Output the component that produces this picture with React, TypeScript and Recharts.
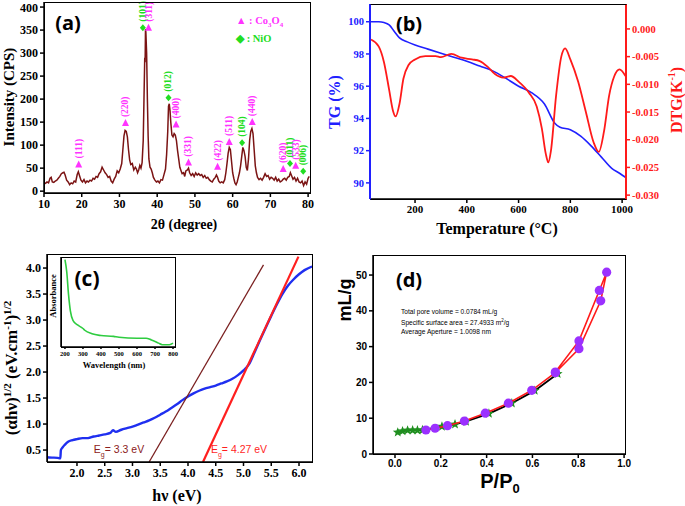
import React from 'react';
import { ComposedChart, Line, Scatter, XAxis, YAxis } from 'recharts';

// ---- (a) XRD pattern ----
const xrdTheta = [
  10.0, 10.4, 10.8, 11.2, 11.6, 11.9, 12.2, 12.6, 13.0, 13.4, 13.8, 14.2, 14.6, 15.0, 15.3, 15.6, 16.0, 16.4, 16.8, 17.2,
  17.6, 18.0, 18.4, 18.8, 19.1, 19.4, 19.8, 20.2, 20.6, 21.0, 21.4, 21.8, 22.2, 22.6, 23.0, 23.4, 23.8, 24.2, 24.6, 25.0,
  25.4, 25.8, 26.2, 26.6, 27.0, 27.4, 27.8, 28.2, 28.6, 29.0, 29.4, 29.8, 30.2, 30.6, 30.9, 31.2, 31.5, 31.8, 32.1, 32.4,
  32.7, 33.0, 33.4, 33.8, 34.2, 34.5, 34.8, 35.1, 35.4, 35.7, 36.0, 36.3, 36.5, 36.7, 36.8, 36.9, 37.0, 37.2, 37.4, 37.6,
  37.8, 38.1, 38.4, 38.7, 39.0, 39.4, 39.8, 40.2, 40.6, 41.0, 41.4, 41.8, 42.2, 42.5, 42.8, 43.0, 43.2, 43.4, 43.6, 43.9,
  44.2, 44.5, 44.8, 45.1, 45.4, 45.7, 46.0, 46.3, 46.6, 47.0, 47.3, 47.6, 48.0, 48.3, 48.6, 49.0, 49.4, 49.8, 50.2, 50.6,
  51.0, 51.4, 51.8, 52.2, 52.6, 53.0, 53.4, 53.8, 54.2, 54.6, 55.0, 55.4, 55.7, 56.0, 56.3, 56.7, 57.1, 57.5, 57.9, 58.2,
  58.5, 58.8, 59.1, 59.4, 59.7, 60.0, 60.3, 60.6, 60.9, 61.2, 61.5, 61.8, 62.1, 62.4, 62.7, 63.0, 63.3, 63.6, 63.9, 64.2,
  64.5, 64.8, 65.1, 65.4, 65.7, 66.0, 66.3, 66.6, 67.0, 67.4, 67.8, 68.2, 68.6, 69.0, 69.4, 69.8, 70.2, 70.6, 71.0, 71.4,
  71.8, 72.2, 72.6, 73.0, 73.4, 73.8, 74.2, 74.6, 75.0, 75.3, 75.6, 76.0, 76.4, 76.8, 77.2, 77.6, 78.0, 78.4, 78.8, 79.2,
  79.6, 80.0, 80.3,
];
const xrdCps = [
  18, 17, 20, 18, 28, 30, 20, 19, 22, 24, 28, 32, 38, 40, 41, 35, 24, 20, 14, 18,
  16, 22, 20, 36, 42, 34, 24, 20, 25, 18, 22, 20, 24, 22, 28, 26, 32, 30, 38, 42,
  52, 46, 40, 36, 30, 32, 22, 18, 26, 32, 44, 40, 48, 60, 90, 120, 132, 130, 118, 90,
  68, 58, 60, 46, 52, 48, 40, 46, 56, 50, 62, 110, 200, 290, 280, 352, 345, 300, 200, 120,
  70, 52, 48, 40, 30, 24, 20, 22, 18, 25, 24, 36, 48, 80, 130, 185, 190, 175, 150, 122,
  118, 125, 122, 110, 88, 70, 52, 45, 38, 40, 32, 44, 46, 50, 40, 34, 38, 32, 40, 35,
  38, 34, 36, 30, 34, 28, 30, 25, 22, 20, 26, 30, 35, 30, 22, 18, 20, 18, 25, 40,
  60, 82, 95, 90, 65, 40, 28, 18, 14, 20, 30, 40, 55, 75, 95, 88, 75, 52, 45, 70,
  110, 130, 136, 125, 90, 55, 40, 30, 25, 28, 24, 30, 38, 32, 34, 26, 30, 28, 24, 30,
  22, 26, 20, 22, 26, 28, 24, 30, 32, 40, 34, 26, 30, 22, 28, 20, 18, 22, 12, 20,
  15, 28, 32,
];
const peakTheta = [19.2, 31.6, 36.2, 37.7, 43.0, 45.0, 48.3, 56.0, 59.1, 62.5, 65.2, 73.4, 75.2, 76.7, 78.7];
const peakCps = [58, 148, 355, 355, 203, 145, 62, 53, 107, 105, 150, 48, 60, 55, 43];
const peakHkl = ['(111)', '(220)', '(101)', '(311)', '(012)', '(400)', '(331)', '(422)', '(511)', '(104)', '(440)', '(620)', '(011)', '(533)', '(006)'];
const peakPhase = ['c', 'c', 'n', 'c', 'n', 'c', 'c', 'c', 'c', 'n', 'c', 'c', 'n', 'c', 'n'];

// ---- (b) TG / DTG ----
const tgT = [30, 60, 80, 100, 120, 140, 170, 200, 250, 300, 350, 400, 450, 500, 550, 600, 650, 700, 740, 760, 800, 840, 880, 920, 960, 990, 1013];
const tgVal = [100, 100, 99.95, 99.8, 99.4, 99.0, 98.75, 98.55, 98.3, 98.05, 97.8, 97.55, 97.25, 96.95, 96.5, 96.0, 95.6, 94.9, 93.7, 93.45, 93.3, 92.9, 92.3, 91.6, 90.9, 90.6, 90.35];
const dtgT = [30, 60, 80, 100, 115, 125, 140, 155, 175, 200, 240, 280, 300, 340, 380, 420, 450, 480, 510, 540, 570, 600, 640, 670, 690, 705, 715, 725, 745, 765, 780, 800, 830, 860, 890, 910, 930, 950, 970, 990, 1013];
const dtgVal = [-0.0019, -0.0032, -0.006, -0.011, -0.0148, -0.0158, -0.0135, -0.009, -0.0065, -0.0055, -0.0049, -0.0049, -0.0051, -0.0045, -0.0052, -0.0055, -0.0058, -0.0068, -0.0082, -0.0088, -0.0085, -0.0095, -0.0115, -0.014, -0.018, -0.0225, -0.0241, -0.022, -0.012, -0.005, -0.0035, -0.0055, -0.0095, -0.015, -0.0205, -0.0222, -0.0185, -0.012, -0.0085, -0.0073, -0.0085];

// ---- (c) Tauc plot ----
const taucE = [1.46, 1.55, 1.65, 1.70, 1.71, 1.74, 1.78, 1.84, 1.92, 2.0, 2.1, 2.2, 2.3, 2.4, 2.5, 2.6, 2.65, 2.7, 2.8, 2.9, 3.0, 3.1, 3.2, 3.3, 3.4, 3.5, 3.6, 3.7, 3.8, 3.9, 4.0, 4.1, 4.2, 4.3, 4.4, 4.5, 4.6, 4.7, 4.8, 4.9, 5.0, 5.1, 5.2, 5.3, 5.4, 5.5, 5.6, 5.7, 5.8, 5.9, 6.0, 6.1, 6.234];
const taucVal = [0.36, 0.355, 0.35, 0.34, 0.5, 0.55, 0.6, 0.66, 0.69, 0.71, 0.73, 0.73, 0.76, 0.78, 0.8, 0.83, 0.88, 0.85, 0.89, 0.92, 0.95, 0.99, 1.03, 1.07, 1.12, 1.18, 1.24, 1.31, 1.38, 1.46, 1.53, 1.59, 1.64, 1.68, 1.71, 1.74, 1.78, 1.82, 1.87, 1.94, 2.03, 2.15, 2.38, 2.62, 2.85, 3.08, 3.3, 3.5, 3.66, 3.78, 3.88, 3.96, 4.03];
const fit1E = [3.3, 5.36];
const fit1Val = [0.27, 4.06];
const fit2E = [4.27, 5.99];
const fit2Val = [0.27, 4.22];
const absWl = [200, 210, 220, 230, 245, 270, 300, 310, 350, 400, 470, 500, 600, 650, 680, 720, 740, 780, 800];
const absVal = [0.99, 0.85, 0.59, 0.41, 0.3, 0.25, 0.21, 0.19, 0.15, 0.13, 0.12, 0.11, 0.1, 0.1, 0.08, 0.044, 0.026, 0.026, 0.044];

// ---- (d) N2 isotherm ----
const adsP = [0.012, 0.033, 0.055, 0.077, 0.098, 0.12, 0.205, 0.262, 0.31, 0.41, 0.51, 0.61, 0.71];
const adsV = [6.05, 6.4, 6.6, 6.65, 6.65, 6.7, 7.7, 8.3, 9.1, 11.3, 14.2, 17.7, 22.4];
const desP = [0.135, 0.175, 0.229, 0.303, 0.394, 0.495, 0.597, 0.7, 0.803, 0.898, 0.924, 0.892, 0.803, 0.7];
const desV = [6.7, 7.2, 7.9, 9.2, 11.4, 14.2, 17.8, 22.7, 29.4, 42.8, 50.8, 45.7, 31.6, 22.9];

const SERIF = '"Liberation Serif", "Times New Roman", serif';
const SANS = '"Liberation Sans", Arial, sans-serif';
const TAG = '"Open Sans", "Liberation Sans", sans-serif';
const MAGENTA = '#ff33ff';
const NIO = '#22dd22';

const xrdData = xrdTheta.map((t, i) => ({ t, cps: xrdCps[i] }));
const peaks = peakTheta.map((t, i) => ({ t, cps: peakCps[i], hkl: peakHkl[i], phase: peakPhase[i] }));
const tgData = tgT.map((T, i) => ({ T, tg: tgVal[i] }));
const dtgData = dtgT.map((T, i) => ({ T, dtg: dtgVal[i] }));
const taucData = taucE.map((e, i) => ({ e, v: taucVal[i] }));
const fit1 = fit1E.map((e, i) => ({ e, v: fit1Val[i] }));
const fit2 = fit2E.map((e, i) => ({ e, v: fit2Val[i] }));
const absData = absWl.map((w, i) => ({ w, a: absVal[i] }));
const adsData = adsP.map((p, i) => ({ p, v: adsV[i] }));
const desData = desP.map((p, i) => ({ p, v: desV[i] }));

function PeakMark(props: any) {
  const { cx, cy, payload } = props;
  const col = payload.phase === 'c' ? MAGENTA : NIO;
  const ty = cy - 6;
  return (
    <g>
      {payload.phase === 'c' ? (
        <polygon points={`${cx},${cy - 4} ${cx - 3.5},${cy + 3} ${cx + 3.5},${cy + 3}`} fill={col} />
      ) : (
        <polygon points={`${cx},${cy - 3.5} ${cx - 3},${cy} ${cx},${cy + 3.5} ${cx + 3},${cy}`} fill={col} />
      )}
      <text
        x={cx}
        y={ty}
        transform={`rotate(-90 ${cx} ${ty})`}
        dominantBaseline="central"
        fill={col}
        fontSize={9.5}
        fontFamily={SERIF}
        fontWeight={700}
      >
        {payload.hkl}
      </text>
    </g>
  );
}

function Dot(props: any) {
  return <circle cx={props.cx} cy={props.cy} r={4.6} fill="#9b30ff" />;
}

function Star(props: any) {
  const { cx, cy } = props;
  const pts: string[] = [];
  for (let k = 0; k < 10; k++) {
    const r = k % 2 === 0 ? 5.2 : 2.2;
    const a = -Math.PI / 2 + (k * Math.PI) / 5;
    pts.push(`${cx + r * Math.cos(a)},${cy + r * Math.sin(a)}`);
  }
  return <polygon points={pts.join(' ')} fill="#1f8f1f" />;
}

function Txt({ x, y, rot = 0, size, color = '#000', family = SERIF, weight = 700, children }: any) {
  return (
    <div
      style={{
        position: 'absolute',
        left: x,
        top: y,
        transform: `translate(-50%, -50%) rotate(${rot}deg)`,
        whiteSpace: 'nowrap',
        fontSize: size,
        fontFamily: family,
        fontWeight: weight,
        color,
        lineHeight: 1,
      }}
    >
      {children}
    </div>
  );
}

function Frame({ l, t, w, h, c = ['#000', '#000', '#000', '#000'], bg }: any) {
  return (
    <div
      style={{
        position: 'absolute',
        left: l,
        top: t,
        width: w,
        height: h,
        boxSizing: 'border-box',
        borderStyle: 'solid',
        borderWidth: 1.5,
        borderColor: `${c[0]} ${c[1]} ${c[2]} ${c[3]}`,
        background: bg,
        pointerEvents: 'none',
      }}
    />
  );
}

const tickSerif = (size: number, fill = '#000') => ({ fill, fontSize: size, fontFamily: SERIF, fontWeight: 700 });
const axis = (stroke = '#000') => ({ stroke, strokeWidth: 1.5 });

export default function App() {
  return (
    <div style={{ position: 'absolute', left: 0, top: 0, width: 685, height: 506, background: '#fff', overflow: 'hidden' }}>
      {/* (a) */}
      <div style={{ position: 'absolute', left: 0, top: 0 }}>
        <ComposedChart width={330} height={240} data={xrdData} margin={{ top: 2, right: 20, left: 0, bottom: 0 }}>
          <XAxis
            type="number"
            dataKey="t"
            domain={[10, 80.5]}
            ticks={[10, 20, 30, 40, 50, 60, 70, 80]}
            height={47}
            axisLine={axis()}
            tickLine={axis()}
            tickSize={4}
            tick={tickSerif(12)}
          />
          <YAxis
            type="number"
            domain={[-4, 411]}
            ticks={[0, 50, 100, 150, 200, 250, 300, 350, 400]}
            width={44}
            axisLine={axis()}
            tickLine={axis()}
            tickSize={4}
            tick={tickSerif(12)}
          />
          <Line dataKey="cps" type="linear" stroke="#7b1414" strokeWidth={1.5} dot={false} isAnimationActive={false} />
          <Scatter data={peaks} dataKey="cps" shape={PeakMark} isAnimationActive={false} />
        </ComposedChart>
      </div>
      <Frame l={44} t={2} w={267} h={192} />
      <Txt x={68} y={23} size={20} family={TAG}>(a)</Txt>
      <div style={{ position: 'absolute', left: 236, top: 14, fontFamily: SERIF, fontWeight: 700, fontSize: 10.5, lineHeight: '13px' }}>
        <div style={{ color: MAGENTA }}>▲ : Co<sub style={{ fontSize: 7 }}>3</sub>O<sub style={{ fontSize: 7 }}>4</sub></div>
        <div style={{ color: NIO }}>◆ : NiO</div>
      </div>
      <Txt x={9} y={97} rot={-90} size={15}>Intensity (CPS)</Txt>
      <Txt x={184} y={225} size={14}>2θ (degree)</Txt>

      {/* (b) */}
      <div style={{ position: 'absolute', left: 340, top: 0 }}>
        <ComposedChart width={345} height={240} margin={{ top: 4, right: 19, left: 0, bottom: 0 }}>
          <XAxis
            type="number"
            dataKey="T"
            domain={[26, 1015]}
            ticks={[200, 400, 600, 800, 1000]}
            height={41}
            axisLine={axis()}
            tickLine={axis()}
            tickSize={4}
            tick={tickSerif(11)}
          />
          <YAxis
            yAxisId="l"
            type="number"
            domain={[89, 101.1]}
            ticks={[90, 92, 94, 96, 98, 100]}
            width={30}
            axisLine={{ stroke: '#2020ff', strokeWidth: 2 }}
            tickLine={{ stroke: '#2020ff', strokeWidth: 1.5 }}
            tickSize={4}
            tick={tickSerif(10.5, '#2020ff')}
          />
          <YAxis
            yAxisId="r"
            orientation="right"
            type="number"
            domain={[-0.0307, 0.0045]}
            ticks={[0, -0.005, -0.01, -0.015, -0.02, -0.025, -0.03]}
            tickFormatter={(v: number) => v.toFixed(3)}
            width={40}
            axisLine={{ stroke: '#ff1a1a', strokeWidth: 2 }}
            tickLine={{ stroke: '#ff1a1a', strokeWidth: 1.5 }}
            tickSize={4}
            tick={tickSerif(10.5, '#ff1a1a')}
          />
          <Line yAxisId="l" data={tgData} dataKey="tg" type="monotone" stroke="#2020ff" strokeWidth={1.6} dot={false} isAnimationActive={false} />
          <Line yAxisId="r" data={dtgData} dataKey="dtg" type="monotone" stroke="#ff1a1a" strokeWidth={1.8} dot={false} isAnimationActive={false} />
        </ComposedChart>
      </div>
      <Frame l={370} t={4} w={257} h={196} c={['#000', '#ff1a1a', '#000', '#2020ff']} />
      <Txt x={409} y={24} size={20} family={TAG}>(b)</Txt>
      <Txt x={335} y={102} rot={-90} size={16} color="#2020ff">TG (%)</Txt>
      <Txt x={676} y={100} rot={-90} size={16} color="#ff1a1a">
        DTG(K<sup style={{ fontSize: 10 }}>-1</sup>)
      </Txt>
      <Txt x={497} y={229} size={16}>Temperature (°C)</Txt>

      {/* (c) */}
      <div style={{ position: 'absolute', left: 0, top: 250 }}>
        <ComposedChart width={330} height={256} margin={{ top: 4, right: 18, left: 0, bottom: 0 }}>
          <XAxis
            type="number"
            dataKey="e"
            domain={[1.46, 6.234]}
            ticks={[2, 2.5, 3, 3.5, 4, 4.5, 5, 5.5, 6]}
            tickFormatter={(v: number) => v.toFixed(1)}
            height={44}
            axisLine={axis()}
            tickLine={axis()}
            tickSize={4}
            tick={tickSerif(12)}
          />
          <YAxis
            type="number"
            domain={[0.27, 4.27]}
            ticks={[0.5, 1, 1.5, 2, 2.5, 3, 3.5, 4]}
            tickFormatter={(v: number) => v.toFixed(1)}
            width={47}
            axisLine={axis()}
            tickLine={axis()}
            tickSize={4}
            tick={tickSerif(12)}
          />
          <Line data={taucData} dataKey="v" type="monotone" stroke="#1f2ff0" strokeWidth={2.4} dot={false} isAnimationActive={false} />
          <Line data={fit1} dataKey="v" type="linear" stroke="#7a1f1f" strokeWidth={1.3} dot={false} isAnimationActive={false} />
          <Line data={fit2} dataKey="v" type="linear" stroke="#ff1f1f" strokeWidth={2.2} dot={false} isAnimationActive={false} />
        </ComposedChart>
      </div>
      <Frame l={47} t={254} w={266} h={209} />
      <Txt x={119} y={451} size={10.5} family={SANS} weight={400} color="#8b2020">
        E<sub style={{ fontSize: 7 }}>g</sub>= 3.3 eV
      </Txt>
      <Txt x={239} y={451} size={10.5} family={SANS} weight={400} color="#ff1f1f">
        E<sub style={{ fontSize: 7 }}>g</sub>= 4.27 eV
      </Txt>
      <Txt x={11} y={368} rot={-90} size={17}>
        (αhν)<sup style={{ fontSize: 11 }}>1/2</sup> (eV.cm<sup style={{ fontSize: 11 }}>-1</sup>)<sup style={{ fontSize: 11 }}>1/2</sup>
      </Txt>
      <Txt x={177} y={496} size={16}>hν (eV)</Txt>

      {/* (c) inset */}
      <Frame l={61} t={257} w={115} h={91} bg="#fff" />
      <div style={{ position: 'absolute', left: 40, top: 250 }}>
        <ComposedChart width={140} height={125} margin={{ top: 7, right: 5, left: 0, bottom: 0 }}>
          <XAxis
            type="number"
            dataKey="w"
            domain={[178, 811]}
            ticks={[200, 300, 400, 500, 600, 700, 800]}
            height={28}
            axisLine={axis()}
            tickLine={axis()}
            tickSize={2}
            tick={tickSerif(6.5)}
          />
          <YAxis type="number" domain={[0, 1.02]} width={21} tick={false} axisLine={axis()} tickLine={false} />
          <Line data={absData} dataKey="a" type="monotone" stroke="#2ecc40" strokeWidth={1.6} dot={false} isAnimationActive={false} />
        </ComposedChart>
      </div>
      <Txt x={53} y={296} rot={-90} size={8.5}>Absorbance</Txt>
      <Txt x={114} y={365} size={8.5}>Wavelength (nm)</Txt>
      <Txt x={87} y={278} size={21} family={TAG}>(c)</Txt>

      {/* (d) */}
      <div style={{ position: 'absolute', left: 340, top: 250 }}>
        <ComposedChart width={345} height={256} margin={{ top: 5, right: 60, left: 0, bottom: 0 }}>
          <XAxis
            type="number"
            dataKey="p"
            domain={[-0.096, 1.004]}
            ticks={[0, 0.2, 0.4, 0.6, 0.8, 1]}
            tickFormatter={(v: number) => v.toFixed(1)}
            height={52}
            axisLine={axis()}
            tickLine={axis()}
            tickSize={4}
            tick={{ fill: '#000', fontSize: 10, fontFamily: SANS, fontWeight: 700 }}
          />
          <YAxis
            type="number"
            dataKey="v"
            domain={[0, 55.6]}
            ticks={[0, 10, 20, 30, 40, 50]}
            width={33}
            axisLine={axis()}
            tickLine={axis()}
            tickSize={4}
            tick={{ fill: '#000', fontSize: 10, fontFamily: SANS, fontWeight: 700 }}
          />
          <Scatter data={adsData} dataKey="v" line={{ stroke: '#000', strokeWidth: 1.8 }} shape={Star} isAnimationActive={false} />
          <Scatter data={desData} dataKey="v" line={{ stroke: '#ff1a1a', strokeWidth: 1.6 }} shape={Dot} isAnimationActive={false} />
        </ComposedChart>
      </div>
      <Frame l={373} t={255} w={253} h={200} />
      <Txt x={409} y={280} size={20} family={TAG}>(d)</Txt>
      <div style={{ position: 'absolute', left: 401, top: 307, fontFamily: SANS, fontSize: 6.6, lineHeight: '9px', color: '#000' }}>
        <div>Total pore volume = 0.0784 mL/g</div>
        <div>
          Specific surface area = 27.4933 m<sup style={{ fontSize: 4.5 }}>2</sup>/g
        </div>
        <div>Average Aperture = 1.0098 nm</div>
      </div>
      <Txt x={345} y={300} rot={-90} size={18} family={SANS}>mL/g</Txt>
      <Txt x={500} y={483} size={20} family={SANS}>
        P/P<sub style={{ fontSize: 13 }}>0</sub>
      </Txt>
    </div>
  );
}
